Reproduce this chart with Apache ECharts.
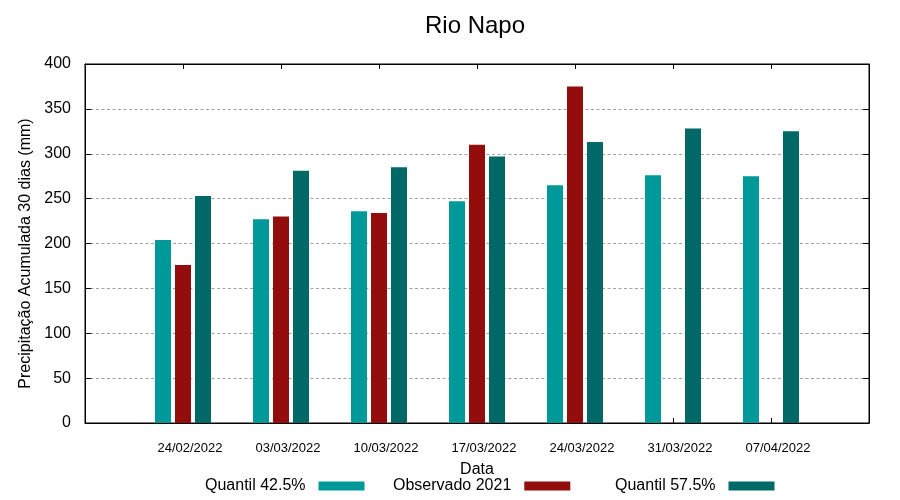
<!DOCTYPE html>
<html>
<head>
<meta charset="utf-8">
<script src="https://cdn.jsdelivr.net/npm/echarts@6/dist/echarts.min.js"></script>
<style>html,body{margin:0;padding:0;background:#fff}#c{width:900px;height:500px}</style>
</head>
<body>
<div id="c"></div>
<script>
const dates = ['24/02/2022', '03/03/2022', '10/03/2022', '17/03/2022', '24/03/2022', '31/03/2022', '07/04/2022'];
const quantil425 = [204, 227, 236, 247, 265, 276, 275];
const observado2021 = [176, 230, 234, 310, 375, null, null];
const quantil575 = [253, 281, 285, 297, 313, 328, 325];
const yTicks = [0, 50, 100, 150, 200, 250, 300, 350, 400];

const seriesNames = ['Quantil 42.5%', 'Observado 2021', 'Quantil 57.5%'];
const colors = ['#009999', '#940d0d', '#006967'];

// padded categories so clusters sit at 1..7 of 0..8
const cats = [''].concat(dates, ['']);
const pad = arr => [null].concat(arr, [null]);

const font = 'Liberation Sans, Arial, sans-serif';
const chart = echarts.init(document.getElementById('c'), null, {renderer: 'canvas'});

function legendAt(i, left) {
  return {
    data: [seriesNames[i]],
    left: left,
    top: 473,
    align: 'right',
    itemWidth: 46,
    itemHeight: 9,
    icon: 'rect',
    textStyle: {fontFamily: font, fontSize: 16, color: '#000', padding: [0, 8, 0, 0]}
  };
}

const tickStyle = {show: true, inside: true, length: 5, interval: 0, lineStyle: {color: '#000', width: 1}};

chart.setOption({
  animation: false,
  backgroundColor: '#fff',
  title: {
    text: 'Rio Napo',
    left: 470,
    textAlign: 'center',
    top: 9,
    textStyle: {fontFamily: font, fontSize: 24, fontWeight: 'normal', color: '#000'}
  },
  legend: [legendAt(0, 200), legendAt(1, 388), legendAt(2, 610)],
  grid: {left: 85, right: 31, top: 64, bottom: 77, containLabel: false,
    show: true, borderColor: '#000', borderWidth: 1, backgroundColor: 'transparent'},
  xAxis: [{
    type: 'category',
    data: cats,
    boundaryGap: false,
    position: 'bottom',
    name: 'Data',
    nameLocation: 'middle',
    nameGap: 39,
    nameTextStyle: {fontFamily: font, fontSize: 16, color: '#000'},
    axisLine: {show: true, onZero: false, lineStyle: {color: '#000', width: 1}},
    axisTick: tickStyle,
    axisLabel: {fontFamily: font, fontSize: 13, color: '#000', margin: 19, padding: [0, 0, 0, 14], interval: 0},
    splitLine: {show: false}
  }, {
    type: 'category',
    data: cats,
    boundaryGap: false,
    position: 'top',
    axisLine: {show: true, onZero: false, lineStyle: {color: '#000', width: 1}},
    axisTick: tickStyle,
    axisLabel: {show: false},
    splitLine: {show: false}
  }],
  yAxis: [{
    type: 'value',
    min: 0, max: 400, interval: 50,
    position: 'left',
    name: 'Precipitação Acumulada 30 dias (mm)',
    nameLocation: 'middle',
    nameGap: 50,
    nameTextStyle: {fontFamily: font, fontSize: 16, color: '#000', padding: [0, 20, 0, 0]},
    axisLine: {show: true, lineStyle: {color: '#000', width: 1}},
    axisTick: {show: true, inside: true, length: 6, lineStyle: {color: '#000'}},
    axisLabel: {fontFamily: font, fontSize: 16, color: '#000', margin: 14,
      formatter: v => yTicks.indexOf(v) >= 0 ? String(v) : ''},
    splitLine: {show: true, showMinLine: false, showMaxLine: false,
      lineStyle: {color: '#a0a0a0', type: [3, 2.5], width: 1}}
  }, {
    type: 'value',
    min: 0, max: 400, interval: 50,
    position: 'right',
    axisLine: {show: true, lineStyle: {color: '#000', width: 1}},
    axisTick: {show: true, inside: true, length: 6, lineStyle: {color: '#000'}},
    axisLabel: {show: false},
    splitLine: {show: false}
  }],
  series: [
    {name: seriesNames[0], type: 'bar', data: pad(quantil425), barWidth: 16, barGap: '25%', itemStyle: {color: colors[0]}},
    {name: seriesNames[1], type: 'bar', data: pad(observado2021), barWidth: 16, barGap: '25%', itemStyle: {color: colors[1]}},
    {name: seriesNames[2], type: 'bar', data: pad(quantil575), barWidth: 16, barGap: '25%', itemStyle: {color: colors[2]}}
  ]
});
</script>
</body>
</html>
